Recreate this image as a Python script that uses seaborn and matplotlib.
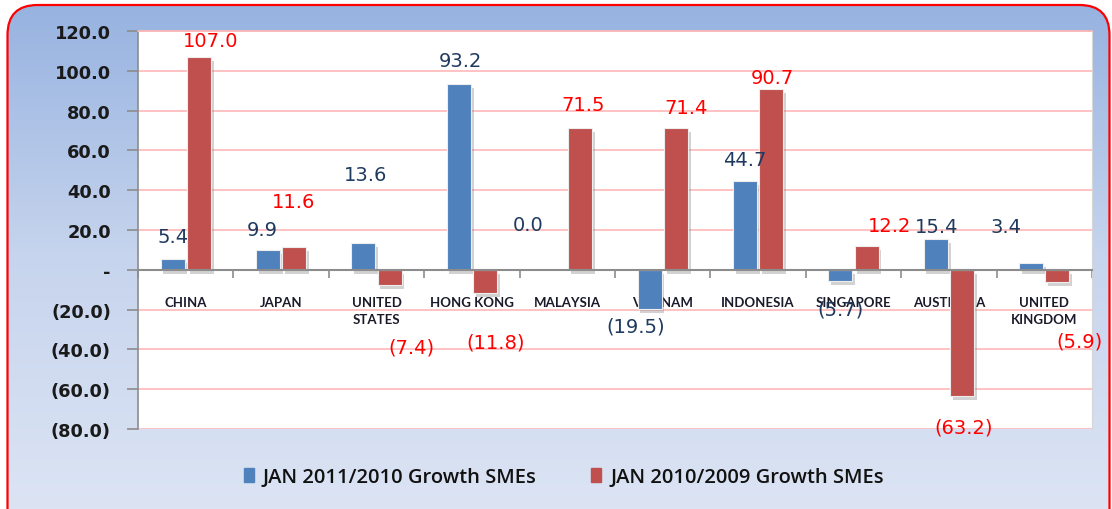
"""
SME growth by country, Jan 2011/2010 vs Jan 2010/2009 (recreated Excel-style bar chart).
"""

import matplotlib
matplotlib.use("Agg")
import matplotlib.pyplot as plt
import matplotlib.patches as mpatches
import matplotlib.patheffects as pe
from matplotlib.colors import LinearSegmentedColormap
from matplotlib.ticker import FuncFormatter, FixedLocator
import numpy as np
import pandas as pd
import seaborn as sns

# ---------- data ----------
countries = ["CHINA", "JAPAN", "UNITED\nSTATES", "HONG KONG", "MALAYSIA",
             "VIETNAM", "INDONESIA", "SINGAPORE", "AUSTRALIA", "UNITED\nKINGDOM"]
series_names = ["JAN 2011/2010 Growth SMEs", "JAN 2010/2009 Growth SMEs"]
growth_2011 = [5.4, 9.9, 13.6, 93.2, 0.0, -19.5, 44.7, -5.7, 15.4, 3.4]
growth_2010 = [107.0, 11.6, -7.4, -11.8, 71.5, 71.4, 90.7, 12.2, -63.2, -5.9]
y_ticks = [-80, -60, -40, -20, 0, 20, 40, 60, 80, 100, 120]

# ---------- style ----------
W, H = 1112, 510
BLUE = "#4F81BD"
RED = "#C0504D"
BLUE_TXT = "#1F3A5F"
RED_TXT = "#FF0000"
GRID = "#FFB8B8"
AXIS = "#8C8C8C"

# label placement (pixel offsets from bar end, as the labels were dragged by hand)
offsets_2011 = [(0, 23), (-6, 21), (2, 68), (2, 24), (-26, 45),
                (-14, -17), (0, 21), (0, -28), (1, 13), (-25, 37)]
offsets_2010 = [(12, 16), (-1, 45), (22, -62), (11, -49), (3, 23),
                (10, 20), (1, 12), (23, 20), (2, -31), (22, -59)]

df = pd.DataFrame({
    "country": countries * 2,
    "series": [series_names[0]] * len(countries) + [series_names[1]] * len(countries),
    "value": growth_2011 + growth_2010,
})

fig = plt.figure(figsize=(W / 100, H / 100), dpi=100)
fig.patch.set_facecolor("white")

# background: rounded panel with vertical blue gradient
bg = fig.add_axes([0, 0, 1, 1], zorder=-5)
bg.set_xlim(0, W)
bg.set_ylim(H, 0)
bg.axis("off")
grad = np.linspace(0, 1, 256).reshape(-1, 1)
cmap = LinearSegmentedColormap.from_list("panel", ["#96B2E0", "#C6D4ED", "#DCE4F4"])
im = bg.imshow(grad, extent=[0, W, H, 0], aspect="auto", cmap=cmap, origin="upper")
panel = mpatches.FancyBboxPatch((7.5, 6), 1102, 600,
                                boxstyle="round,pad=0,rounding_size=30",
                                facecolor="none", edgecolor="#FF0000", linewidth=1.6)
bg.add_patch(panel)
im.set_clip_path(panel)

# plot area
left, right, top, bottom = 138, 1092, 32, 430
ax = fig.add_axes([left / W, 1 - bottom / H, (right - left) / W, (bottom - top) / H])
ax.set_facecolor("white")

sns.barplot(data=df, x="country", y="value", hue="series", palette=[BLUE, RED],
            width=0.55, gap=0.08, saturation=1, legend=False, ax=ax,
            edgecolor="#EDEDED", linewidth=0.8, zorder=3)

shadow = [pe.SimplePatchShadow(offset=(2, -3), shadow_rgbFace="#808080", alpha=0.35),
          pe.Normal()]
for bar in ax.patches:
    bar.set_path_effects(shadow)

# data labels
fmt = lambda v: f"({abs(v):.1f})" if v < 0 else f"{v:.1f}"
for cont, vals, offs, col in zip(ax.containers, [growth_2011, growth_2010],
                                 [offsets_2011, offsets_2010], [BLUE_TXT, RED_TXT]):
    for bar, v, (dx, dy) in zip(cont, vals, offs):
        x = bar.get_x() + bar.get_width() / 2
        ax.annotate(fmt(v), xy=(x, v), xytext=(dx, dy), textcoords="offset pixels",
                    ha="center", va="center", fontsize=14, color=col,
                    family="DejaVu Sans", zorder=6, annotation_clip=False)

# y axis
ax.set_ylim(-80, 120)
ax.set_yticks(y_ticks)
ax.yaxis.set_major_formatter(FuncFormatter(
    lambda v, p: "-" if v == 0 else (f"({abs(v):.1f})" if v < 0 else f"{v:.1f}")))
ax.tick_params(axis="y", length=8, width=1.2, color=AXIS, pad=11.5,
               labelsize=12.8, labelcolor="#1A1A1A")
for t in ax.get_yticklabels():
    t.set_fontweight("bold")
    t.set_family("DejaVu Sans")
ax.yaxis.grid(True, color=GRID, linewidth=1.2)
ax.set_axisbelow(True)

# x axis at zero with boundary ticks
ax.set_xlim(-0.5, len(countries) - 0.5)
ax.spines["bottom"].set_position(("data", 0))
ax.spines["bottom"].set_color(AXIS)
ax.spines["bottom"].set_linewidth(1.5)
ax.spines["bottom"].set_zorder(4)
ax.spines["left"].set_color(AXIS)
ax.spines["left"].set_linewidth(1.2)
ax.spines["top"].set_color(GRID)
ax.spines["top"].set_linewidth(1.2)
ax.spines["right"].set_color("#D6D6D6")
ax.spines["right"].set_linewidth(0.8)
ax.xaxis.set_minor_locator(FixedLocator(np.arange(-0.5, len(countries), 1.0)))
ax.tick_params(axis="x", which="major", length=0, pad=19)
ax.tick_params(axis="x", which="minor", length=6, width=1.2, color=AXIS)
ax.set_xticks(range(len(countries)))
ax.set_xticklabels(countries, fontsize=9.5, color="#1A1A2A", family="Lato",
                   fontweight="bold", linespacing=1.45, va="top")
for t in ax.get_xticklabels():
    t.set_zorder(7)
ax.set_xlabel("")
ax.set_ylabel("")

# legend
handles = [mpatches.Patch(color=BLUE, label=series_names[0]),
           mpatches.Patch(color=RED, label=series_names[1])]
fig.legend(handles=handles, loc="center", bbox_to_anchor=(0.507, 1 - 478 / H),
           ncol=2, frameon=False,
           prop={"family": "Open Sans", "size": 14.5, "weight": "semibold"},
           handlelength=0.5, handleheight=0.65, handletextpad=0.45,
           columnspacing=2.7, labelcolor="#111111")

fig.savefig("out.png", dpi=100)
